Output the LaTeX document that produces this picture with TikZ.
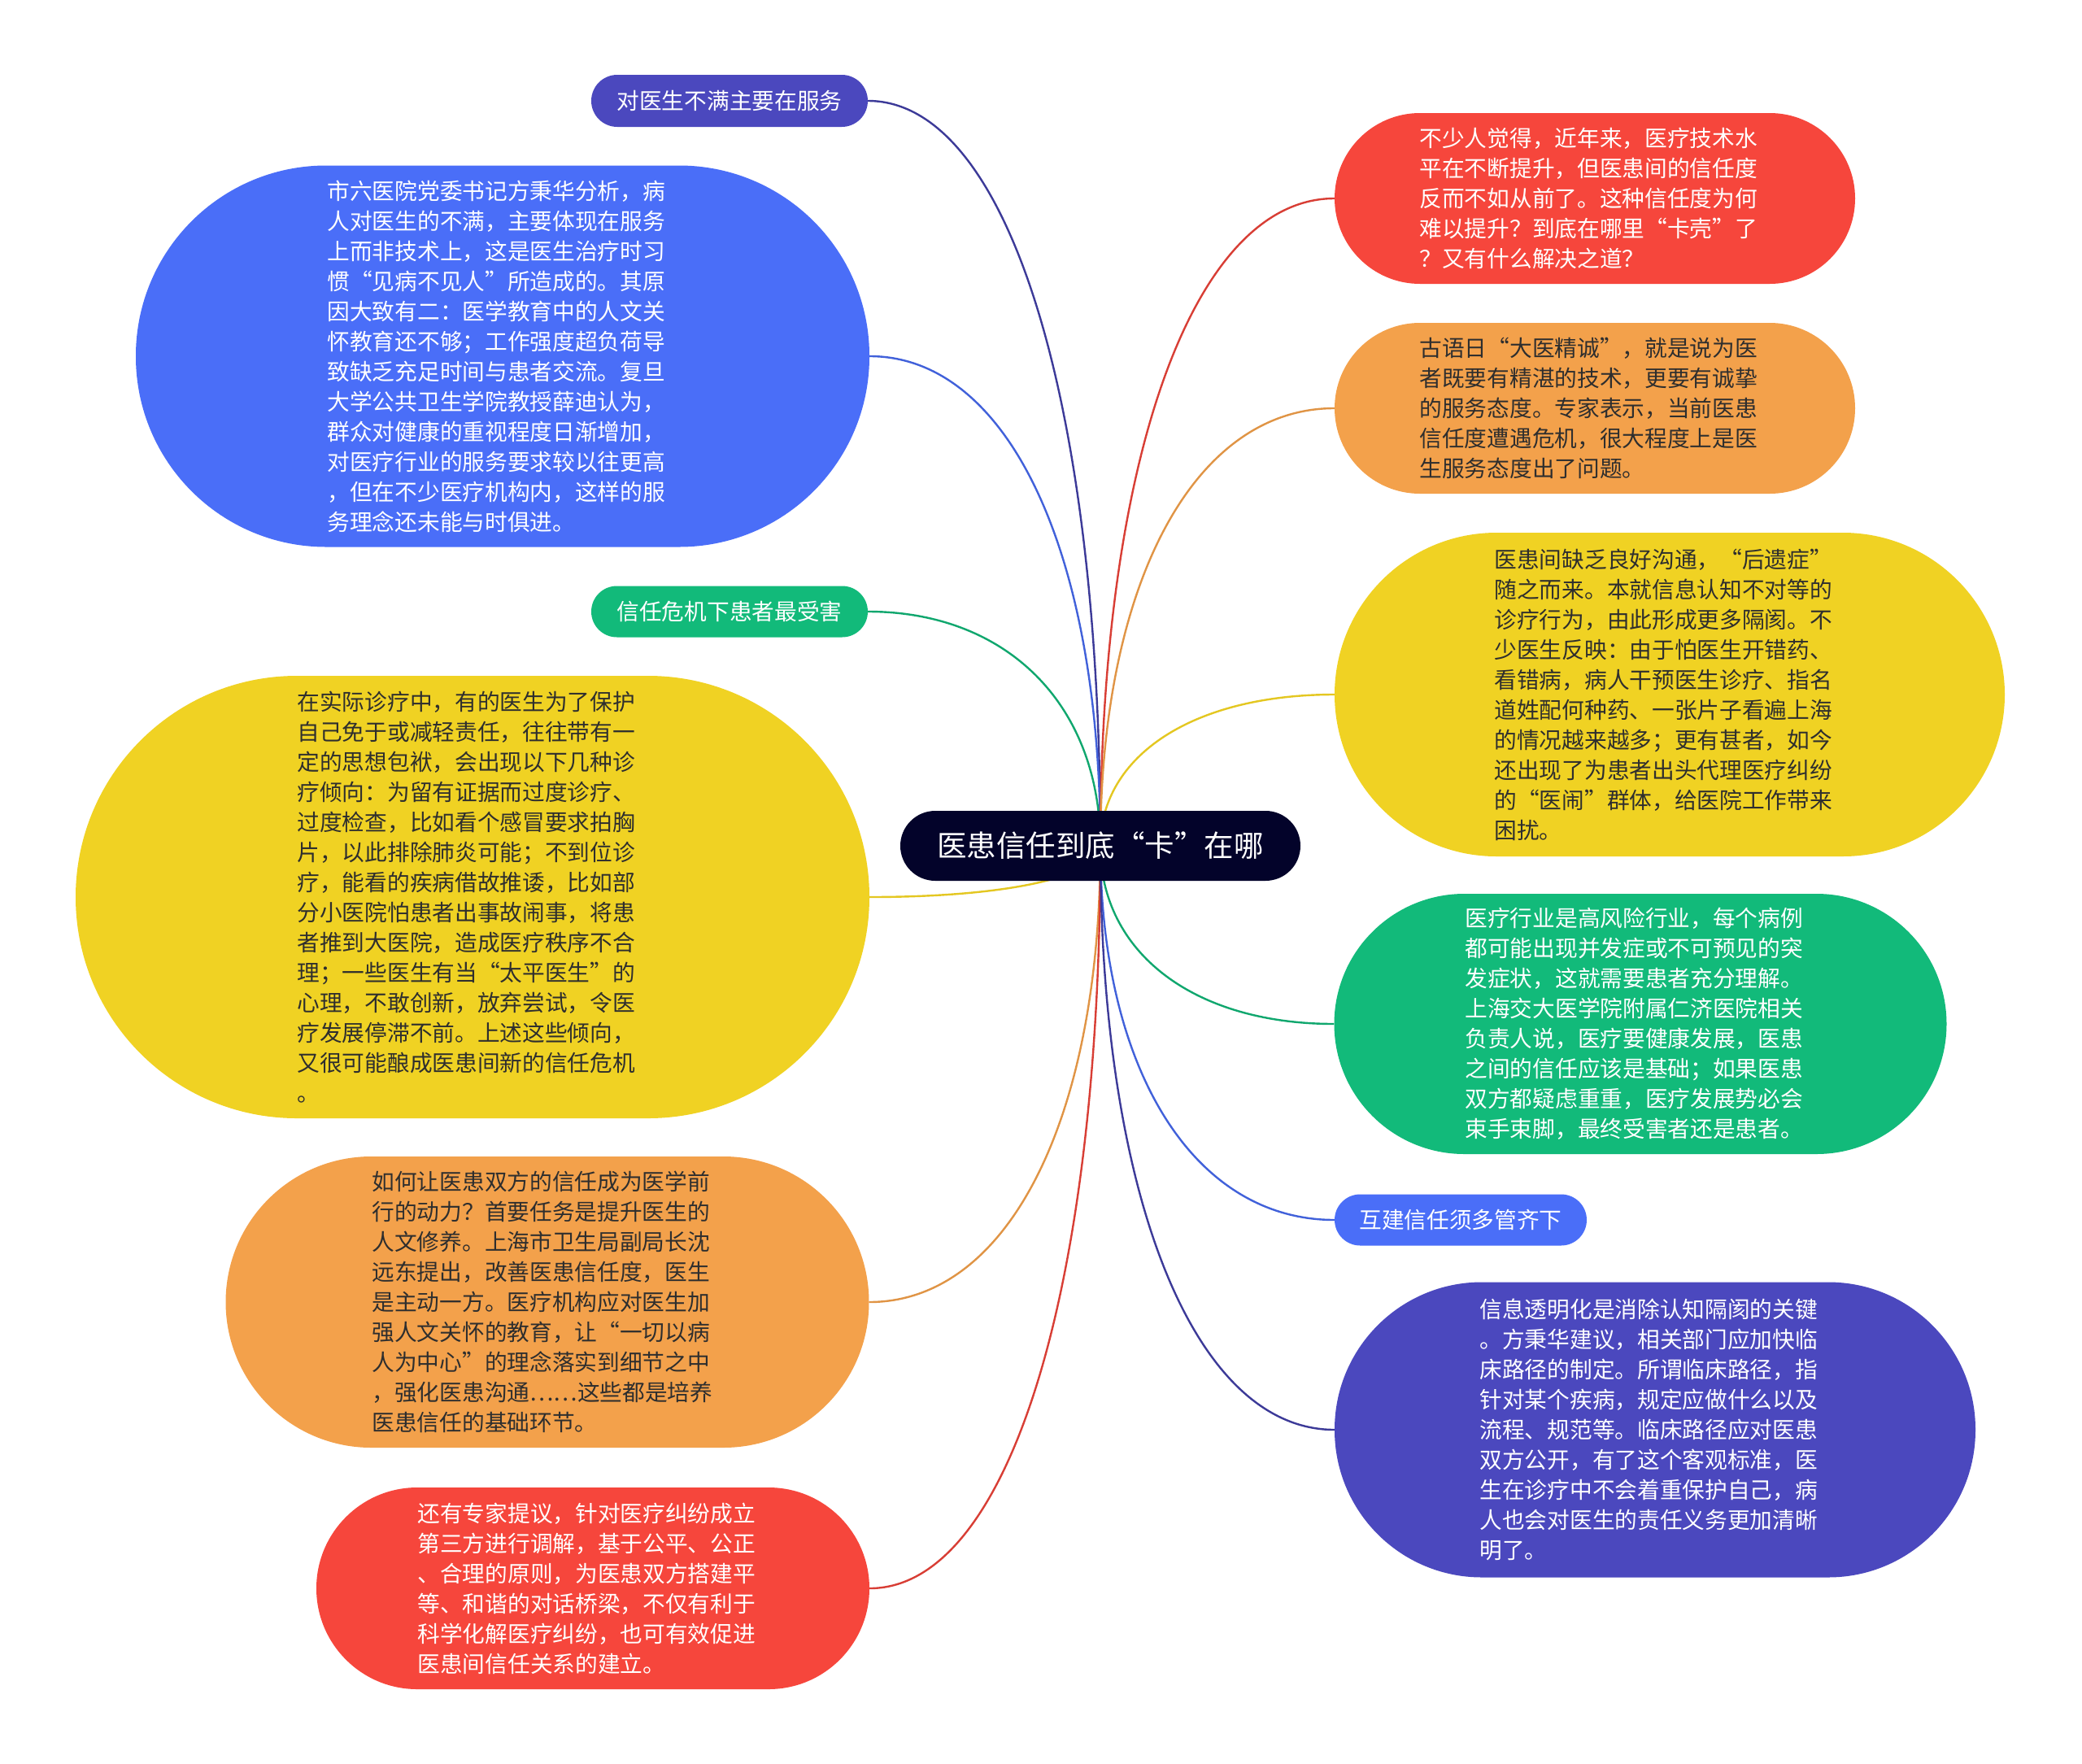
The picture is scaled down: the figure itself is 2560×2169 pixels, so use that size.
\documentclass[tikz,border=0pt]{standalone}
\usepackage{fontspec}
\setmainfont{Noto Sans CJK SC}
\usetikzlibrary{backgrounds,calc}
\definecolor{cind}{HTML}{4B48BE}
\definecolor{cblu}{HTML}{4A6EF8}
\definecolor{cgrn}{HTML}{12BA7A}
\definecolor{cyel}{HTML}{F0D223}
\definecolor{corg}{HTML}{F3A14B}
\definecolor{cred}{HTML}{F6463C}
\definecolor{croot}{HTML}{03032A}
\definecolor{cdark}{HTML}{2E2E2E}
\tikzset{
  box/.style={shape=rectangle, inner sep=0pt, align=left, font=\fontsize{27.7}{37}\selectfont},
  lightbox/.style={box, text=white},
  darkbox/.style={box, text=cdark},
  para/.style={text width=431pt},
  link/.style={line width=2.4pt},
}
\newcommand\mmlink[3]{%
  \draw[link,#1] (root.center) .. controls ($(root.center)!0.6!(root.center|-#2.#3)$) and ($(#2.#3)!0.6!(root.center|-#2.#3)$) .. (#2.#3);}
\begin{document}
\begin{tikzpicture}[x=1pt,y=-1pt]
\useasboundingbox (0,0) rectangle (2560,2169);

% root
\node[box, text=white, fill=croot, font=\fontsize{36.5}{44}\selectfont, minimum width=492pt, minimum height=86pt, rounded corners=43pt] (root) at (1353,1040) {医患信任到底“卡”在哪};

% left side
\node[lightbox, fill=cind, minimum width=340pt, minimum height=64pt, rounded corners=32pt] (l1) at (897,124) {对医生不满主要在服务};

\node[lightbox, para, fill=cblu, minimum width=902pt, minimum height=469pt, rounded corners=234pt] (l2) at (618,438) {市六医院党委书记方秉华分析，病\\
人对医生的不满，主要体现在服务\\
上而非技术上，这是医生治疗时习\\
惯“见病不见人”所造成的。其原\\
因大致有二：医学教育中的人文关\\
怀教育还不够；工作强度超负荷导\\
致缺乏充足时间与患者交流。复旦\\
大学公共卫生学院教授薛迪认为，\\
群众对健康的重视程度日渐增加，\\
对医疗行业的服务要求较以往更高\\
，但在不少医疗机构内，这样的服\\
务理念还未能与时俱进。};

\node[lightbox, fill=cgrn, minimum width=340pt, minimum height=63pt, rounded corners=31.5pt] (l3) at (897,752) {信任危机下患者最受害};

\node[darkbox, para, fill=cyel, minimum width=976pt, minimum height=544pt, rounded corners=272pt] (l4) at (581,1103) {在实际诊疗中，有的医生为了保护\\
自己免于或减轻责任，往往带有一\\
定的思想包袱，会出现以下几种诊\\
疗倾向：为留有证据而过度诊疗、\\
过度检查，比如看个感冒要求拍胸\\
片，以此排除肺炎可能；不到位诊\\
疗，能看的疾病借故推诿，比如部\\
分小医院怕患者出事故闹事，将患\\
者推到大医院，造成医疗秩序不合\\
理；一些医生有当“太平医生”的\\
心理，不敢创新，放弃尝试，令医\\
疗发展停滞不前。上述这些倾向，\\
又很可能酿成医患间新的信任危机\\
。};

\node[darkbox, para, fill=corg, minimum width=791pt, minimum height=358pt, rounded corners=179pt] (l5) at (673,1601) {如何让医患双方的信任成为医学前\\
行的动力？首要任务是提升医生的\\
人文修养。上海市卫生局副局长沈\\
远东提出，改善医患信任度，医生\\
是主动一方。医疗机构应对医生加\\
强人文关怀的教育，让“一切以病\\
人为中心”的理念落实到细节之中\\
，强化医患沟通……这些都是培养\\
医患信任的基础环节。};

\node[lightbox, para, fill=cred, minimum width=680pt, minimum height=248pt, rounded corners=124pt] (l6) at (729,1953) {还有专家提议，针对医疗纠纷成立\\
第三方进行调解，基于公平、公正\\
、合理的原则，为医患双方搭建平\\
等、和谐的对话桥梁，不仅有利于\\
科学化解医疗纠纷，也可有效促进\\
医患间信任关系的建立。};

% right side
\node[lightbox, para, fill=cred, minimum width=640pt, minimum height=210pt, rounded corners=105pt] (r1) at (1961,244) {不少人觉得，近年来，医疗技术水\\
平在不断提升，但医患间的信任度\\
反而不如从前了。这种信任度为何\\
难以提升？到底在哪里“卡壳”了\\
？又有什么解决之道？};

\node[darkbox, para, fill=corg, minimum width=640pt, minimum height=210pt, rounded corners=105pt] (r2) at (1961,502) {古语日“大医精诚”，就是说为医\\
者既要有精湛的技术，更要有诚挚\\
的服务态度。专家表示，当前医患\\
信任度遭遇危机，很大程度上是医\\
生服务态度出了问题。};

\node[darkbox, para, fill=cyel, minimum width=824pt, minimum height=398pt, rounded corners=199pt] (r3) at (2053,854) {医患间缺乏良好沟通，“后遗症”\\
随之而来。本就信息认知不对等的\\
诊疗行为，由此形成更多隔阂。不\\
少医生反映：由于怕医生开错药、\\
看错病，病人干预医生诊疗、指名\\
道姓配何种药、一张片子看遍上海\\
的情况越来越多；更有甚者，如今\\
还出现了为患者出头代理医疗纠纷\\
的“医闹”群体，给医院工作带来\\
困扰。};

\node[lightbox, para, fill=cgrn, minimum width=753pt, minimum height=320pt, rounded corners=160pt] (r4) at (2017,1259) {医疗行业是高风险行业，每个病例\\
都可能出现并发症或不可预见的突\\
发症状，这就需要患者充分理解。\\
上海交大医学院附属仁济医院相关\\
负责人说，医疗要健康发展，医患\\
之间的信任应该是基础；如果医患\\
双方都疑虑重重，医疗发展势必会\\
束手束脚，最终受害者还是患者。};

\node[lightbox, fill=cblu, minimum width=310pt, minimum height=63pt, rounded corners=31.5pt] (r5) at (1796,1500) {互建信任须多管齐下};

\node[lightbox, para, fill=cind, minimum width=788pt, minimum height=363pt, rounded corners=181pt] (r6) at (2035,1758) {信息透明化是消除认知隔阂的关键\\
。方秉华建议，相关部门应加快临\\
床路径的制定。所谓临床路径，指\\
针对某个疾病，规定应做什么以及\\
流程、规范等。临床路径应对医患\\
双方公开，有了这个客观标准，医\\
生在诊疗中不会着重保护自己，病\\
人也会对医生的责任义务更加清晰\\
明了。};

\begin{scope}[on background layer]
\fill[white] (0,0) rectangle (2560,2169);
\mmlink{cind!80!black}{l1}{east}
\mmlink{cblu!88!black}{l2}{east}
\mmlink{cgrn!90!black}{l3}{east}
\mmlink{cyel!95!black}{l4}{east}
\mmlink{corg!92!black}{l5}{east}
\mmlink{cred!88!black}{l6}{east}
\mmlink{cred!88!black}{r1}{west}
\mmlink{corg!92!black}{r2}{west}
\mmlink{cyel!95!black}{r3}{west}
\mmlink{cgrn!90!black}{r4}{west}
\mmlink{cblu!88!black}{r5}{west}
\mmlink{cind!80!black}{r6}{west}
\end{scope}
\end{tikzpicture}
\end{document}
